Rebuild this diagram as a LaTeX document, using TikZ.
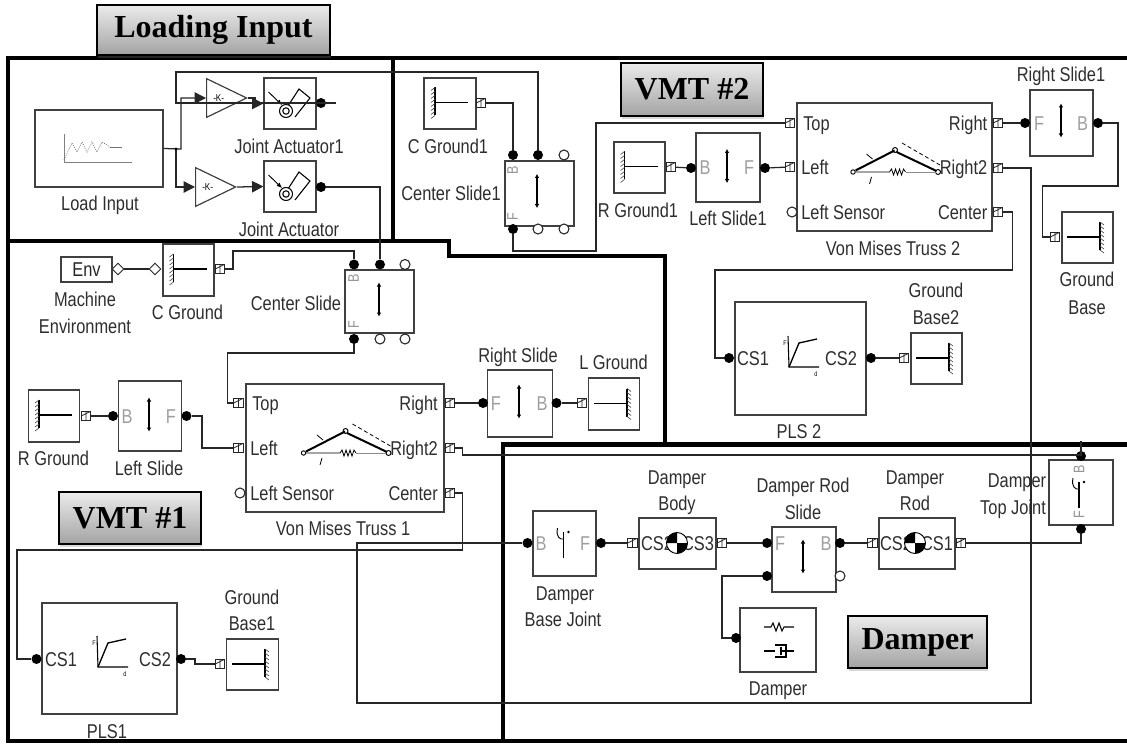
\documentclass[tikz,border=0pt]{standalone}
\usepackage{fontspec}
\setmainfont[FakeStretch=0.82]{Liberation Sans}
\newfontfamily\capfont{Liberation Serif}
\usetikzlibrary{arrows.meta,shapes.geometric,shadows}

\tikzset{
  block/.style 2 args={draw=black!75, line width=.9pt, minimum width=#1*0.75pt, minimum height=#2*0.75pt, inner sep=0pt},
  lab/.style={font=\fontsize{15}{18}\selectfont, text=black!82, text height=10.7pt, text depth=0pt, inner sep=0pt},
  glab/.style={lab, text=black!38},
  rlab/.style={font=\fontsize{11.5}{13}\selectfont, text=black!42, inner sep=0pt, rotate=90},
  dot/.style={circle, fill=black, minimum size=7.5pt, inner sep=0pt},
  hole/.style={circle, draw=black!85, fill=white, line width=.8pt, minimum size=7.5pt, inner sep=0pt},
  port/.style={draw=black!85, line width=.7pt, minimum size=7pt, inner sep=0pt, fill=white,
    path picture={\draw[line width=.6pt] (path picture bounding box.north) -- (path picture bounding box.south)
      (path picture bounding box.west) -- (path picture bounding box.north east);}},
  dia/.style={diamond, draw=black!85, fill=white, line width=.7pt, minimum size=9pt, inner sep=0pt},
  wire/.style={line width=.95pt, draw=black!85},
  arr/.style={wire, -{Triangle[length=8.5pt,width=8.5pt]}},
  frame/.style={line width=3.2pt, line join=miter},
  gain/.style={isosceles triangle, isosceles triangle stretches, draw=black!75, line width=.9pt,
    minimum width=29pt, minimum height=30pt, inner sep=0pt, anchor=lower side, font=\fontsize{7.5}{8}\selectfont},
  caption/.style 2 args={draw=black, line width=.9pt, top color=black!8, bottom color=black!36,
    minimum width=#1*0.75pt, minimum height=#2*0.75pt, inner sep=0pt,
    drop shadow={shadow xshift=1pt, shadow yshift=-2pt, opacity=.3},
    font=\capfont\bfseries\fontsize{24}{28}\selectfont},
  gnd/.pic={
    \draw[line width=.8pt] (-15,-16) -- (-15,12) (-15,-1) -- (18,-1);
    \draw[line width=.5pt, black!70] (-15,-16) -- (-19,-13) (-15,-12) -- (-19,-9) (-15,-8) -- (-19,-5) (-15,-4) -- (-19,-1)
      (-15,0) -- (-19,3) (-15,4) -- (-19,7) (-15,8) -- (-19,11) (-15,12) -- (-19,15);
  },
  slidearrow/.pic={
    \draw[line width=.8pt, {Latex[length=3pt,width=3.5pt]}-{Latex[length=3pt,width=3.5pt]}] (0,-17) -- (0,17);
  },
  fork/.pic={
    \draw[line width=.8pt] (0,-8) -- (0,18);
    \draw[line width=.7pt] (-6,-12) .. controls (-8,-3) and (-3,0) .. (0,-1);
    \fill (5,-8) circle (1.3);
  },
  actuator/.pic={
    \draw[line width=.7pt, -{Latex[length=4pt,width=3.5pt]}] (-21.5,-11.5) -- (-8,1.5);
    \draw[line width=.8pt] (-1.4,1.5) -- (9,-14.5) -- (20,-5.5) -- (5,13.5);
    \draw[line width=.8pt] (-4,7.5) circle (6.5) (-4,7.5) circle (3.2);
  },
  pls/.pic={
    \draw[line width=.8pt] (-12.5,-22.5) -- (-11.5,8.5) -- (18.5,8.5);
    \draw[line width=1pt] (-11.5,8.5) -- (-1.5,-15.5) -- (16.5,-19.5);
    \node[font=\fontsize{5}{6}\selectfont, inner sep=0pt] at (-15.5,-15.5) {F};
    \node[font=\fontsize{5}{6}\selectfont, inner sep=0pt] at (15.5,15.5) {d};
  },
  truss/.pic={
    \draw[line width=1.5pt] (-39,3.5) -- (0,-16.5) (2,-15) -- (42,4);
    \draw[line width=.7pt] (-41.5,5) circle (2.2) (0.5,-17) circle (2.5) (43.5,5) circle (2.5);
    \draw[line width=.6pt, densely dashed] (7.5,-24) -- (45.5,-2);
    \draw[line width=.6pt] (-39,5) -- (-5,5) -- (-3,2) -- (-1,8) -- (1,2) -- (3,8) -- (5,2) -- (7,8) -- (9,2) -- (11,5);
    \draw[line width=.6pt, black!45] (11,5) -- (41,5);
    \draw[line width=.6pt] (-28,-13) -- (-22,-8) (-23,10) -- (-25,17);
  },
  cgmark/.pic={
    \draw[line width=.7pt, fill=white] (0,0) circle (10.5);
    \fill (0,0) -- (10.5,0) arc (0:90:10.5) -- cycle;
    \fill (0,0) -- (-10.5,0) arc (180:270:10.5) -- cycle;
  },
}

\begin{document}
\begin{tikzpicture}[x=0.75pt, y=-0.75pt]
\useasboundingbox (0,0) rectangle (1127,745);

\draw[frame] (1127,58) -- (8,58) -- (8,741) -- (1127,741);
\draw[frame] (393,58) -- (393,241);
\draw[frame] (8,241) -- (449,241) -- (449,256) -- (665,256) -- (665,444.5);
\draw[frame] (1127,444.5) -- (503,444.5) -- (503,741);

\node[caption={233}{50}] (capload) at (213.5,30) {Loading Input};
\node[caption={142}{53}] (capvmtb) at (692,89.5) {VMT \#2};
\node[caption={142}{52}] (capvmta) at (130,518) {VMT \#1};
\node[caption={139}{52}] (capdamp) at (917.5,642) {Damper};

\node[block={128}{77}] (load) at (99,148.5) {};
\draw[black!50, line width=.7pt] (64,134) -- (64,162) -- (132,162);
\draw[black!55, line width=.6pt, densely dotted] (64,160) -- (72,143) -- (77,152) -- (82,142) -- (87,152) -- (92,142) -- (97,152) -- (102,142) -- (110,147);
\draw[black!55, line width=.6pt] (110,147) -- (122,147);
\node[lab] (loadlab) at (100,203) {Load Input};

\node[gain] (gaina) at (206,98) {-K-};
\node[gain] (gainb) at (195,187) {-K-};
\node[block={52}{51}] (jaa) at (290,103.5) {};
\node[block={52}{51}] (jab) at (290,186.5) {};
\pic at (290,103.5) {actuator};
\pic at (290,186.5) {actuator};
\node[lab] (jaalab) at (289,146) {Joint Actuator1};
\node[lab] (jablab) at (289,229) {Joint Actuator};
\node[dot] (jaao) at (321,103) {};
\node[dot] (jabo) at (321,187) {};

\node[block={52}{51}] (cgb) at (450,103.5) {};
\pic at (450,103.5) {gnd};
\node[port] (cgbp) at (481,103) {};
\node[lab] (cgblab) at (448,146) {C Ground1};

\node[block={69}{65}] (csb) at (539.5,193.5) {};
\pic at (537,191) {slidearrow};
\node[rlab] (csbB) at (512.5,170) {B};
\node[rlab] (csbF) at (512.5,217) {F};
\node[dot] (csbta) at (513,155) {};
\node[dot] (csbtb) at (538,155) {};
\node[hole] (csbtc) at (564,155) {};
\node[dot] (csbba) at (513,229) {};
\node[hole] (csbbb) at (538,229) {};
\node[hole] (csbbc) at (564,229) {};
\node[lab] (csblab) at (451,193) {Center Slide1};

\node[block={195}{128}] (vtb) at (894.5,167) {};
\pic at (894.5,167) {truss};
\node[port] (vtbt) at (790,123) {};
\node[port] (vtbl) at (790,167) {};
\node[hole] (vtbs) at (792,212) {};
\node[port] (vtbr) at (998,123) {};
\node[port] (vtbq) at (998,168) {};
\node[port] (vtbc) at (998,212) {};
\node[lab, anchor=west] (vtbtlab) at (803,123) {Top};
\node[lab, anchor=west] (vtbllab) at (801,167) {Left};
\node[lab, anchor=west] (vtbslab) at (801,212) {Left Sensor};
\node[lab, anchor=east] (vtbrlab) at (987.5,123) {Right};
\node[lab, anchor=east] (vtbqlab) at (987.5,167) {Right2};
\node[lab, anchor=east] (vtbclab) at (987.5,212) {Center};
\node[lab] (vtblab) at (893,248) {Von Mises Truss 2};

\node[block={51}{51}] (rgb) at (639.5,167.5) {};
\pic at (639.5,167.5) {gnd};
\node[port] (rgbp) at (671,167) {};
\node[lab] (rgblab) at (638,210) {R Ground1};
\node[block={64}{69}] (lsb) at (728,167.5) {};
\pic at (727,166) {slidearrow};
\node[glab] (lsbB) at (705,167) {B};
\node[glab] (lsbF) at (749,167) {F};
\node[dot] (lsbb) at (691,168) {};
\node[dot] (lsbf) at (765,168) {};
\node[lab] (lsblab) at (728,218) {Left Slide1};

\node[block={63}{66}] (rsb) at (1061.5,123) {};
\pic at (1061,120.5) {slidearrow};
\node[glab] (rsbF) at (1039,123) {F};
\node[glab] (rsbB) at (1082.5,123) {B};
\node[dot] (rsbf) at (1025,123) {};
\node[dot] (rsbb) at (1098,123) {};
\node[lab] (rsblab) at (1061,74) {Right Slide1};

\node[block={51}{51}] (gbc) at (1087.5,237.5) {};
\pic[xscale=-1] at (1085,238) {gnd};
\node[port] (gbcp) at (1055,237) {};
\node[lab] (gbclaba) at (1087,279) {Ground};
\node[lab] (gbclabb) at (1087,307) {Base};

\node[block={131}{113}] (plsb) at (800.5,358.5) {};
\pic at (800.5,358.5) {pls};
\node[lab] (plsbcsa) at (753,358) {CS1};
\node[lab] (plsbcsb) at (841,358) {CS2};
\node[dot] (plsba) at (729,358) {};
\node[dot] (plsbb) at (871,358) {};
\node[lab] (plsblab) at (799,431) {PLS 2};
\node[block={51}{51}] (gbb) at (936.5,358.5) {};
\pic[xscale=-1] at (934,359) {gnd};
\node[port] (gbbp) at (904,358) {};
\node[lab] (gbblaba) at (936,290) {Ground};
\node[lab] (gbblabb) at (936,317) {Base2};

\node[block={51}{25}, lab, text=black!85] (env) at (86.5,269.5) {Env};
\node[dia] (envp) at (118,269) {};
\node[lab] (envlaba) at (85,299) {Machine};
\node[lab] (envlabb) at (85,326) {Environment};
\node[block={51}{52}] (cga) at (188.5,270) {};
\pic at (188.5,270) {gnd};
\node[dia] (cgal) at (155,269) {};
\node[port] (cgap) at (220,269) {};
\node[lab] (cgalab) at (187.5,312) {C Ground};

\node[block={69}{63}] (csa) at (379.5,301.5) {};
\pic at (379,299.5) {slidearrow};
\node[rlab] (csaB) at (353.5,278) {B};
\node[rlab] (csaF) at (353.5,325) {F};
\node[dot] (csata) at (354,264.5) {};
\node[dot] (csatb) at (380,264.5) {};
\node[hole] (csatc) at (405,264.5) {};
\node[dot] (csaba) at (354,339) {};
\node[hole] (csabb) at (380,339) {};
\node[hole] (csabc) at (405,339) {};
\node[lab] (csalab) at (296,303) {Center Slide};

\node[block={198}{128}] (vta) at (345,448) {};
\pic at (345,448) {truss};
\node[port] (vtat) at (238.5,403) {};
\node[port] (vtal) at (238.5,448) {};
\node[hole] (vtas) at (240,493) {};
\node[port] (vtar) at (450,403) {};
\node[port] (vtaq) at (450,448) {};
\node[port] (vtac) at (450,493) {};
\node[lab, anchor=west] (vtatlab) at (252,403) {Top};
\node[lab, anchor=west] (vtallab) at (250,448) {Left};
\node[lab, anchor=west] (vtaslab) at (250,493) {Left Sensor};
\node[lab, anchor=east] (vtarlab) at (438,403) {Right};
\node[lab, anchor=east] (vtaqlab) at (438,448) {Right2};
\node[lab, anchor=east] (vtaclab) at (438,493) {Center};
\node[lab] (vtalab) at (343,528) {Von Mises Truss 1};

\node[block={51.5}{52}] (rga) at (54,416) {};
\pic at (54,416) {gnd};
\node[port] (rgap) at (86,416) {};
\node[lab] (rgalab) at (53.5,458) {R Ground};
\node[block={63.5}{70}] (lsa) at (150,416) {};
\pic at (149,414.5) {slidearrow};
\node[glab] (lsaB) at (127,416) {B};
\node[glab] (lsaF) at (171,416) {F};
\node[dot] (lsab) at (113,416) {};
\node[dot] (lsaf) at (186.5,416) {};
\node[lab] (lsalab) at (149,468) {Left Slide};

\node[block={65}{67}] (rsa) at (520,403.5) {};
\pic at (519,401.5) {slidearrow};
\node[glab] (rsaF) at (496,403) {F};
\node[glab] (rsaB) at (542,403) {B};
\node[dot] (rsaf) at (483,403) {};
\node[dot] (rsab) at (556.5,403) {};
\node[lab] (rsalab) at (518,355) {Right Slide};
\node[block={51.5}{52}] (lg) at (614,404) {};
\pic[xscale=-1] at (612,404.5) {gnd};
\node[port] (lgp) at (582,403) {};
\node[lab] (lglab) at (613.5,362) {L Ground};

\node[block={135}{111}] (plsa) at (109.5,658.5) {};
\pic at (109.5,658.5) {pls};
\node[lab] (plsacsa) at (61,659) {CS1};
\node[lab] (plsacsb) at (155,659) {CS2};
\node[dot] (plsaa) at (36.5,659) {};
\node[dot] (plsab) at (181,659) {};
\node[lab] (plsalab) at (107,731) {PLS1};
\node[block={51.5}{51}] (gba) at (252.5,664.5) {};
\pic[xscale=-1] at (250,665) {gnd};
\node[port] (gbap) at (220,664) {};
\node[lab] (gbalaba) at (252,597) {Ground};
\node[lab] (gbalabb) at (252,623) {Base1};

\node[block={63}{65}] (dbj) at (564.5,543.5) {};
\pic at (563.5,540) {fork};
\node[glab] (dbjB) at (541,543) {B};
\node[glab] (dbjF) at (585,543) {F};
\node[dot] (dbjb) at (527.5,543) {};
\node[dot] (dbjf) at (601,543) {};
\node[lab] (dbjlaba) at (565,593) {Damper};
\node[lab] (dbjlabb) at (563,619) {Base Joint};

\node[block={77}{51}] (db) at (677.5,543.5) {};
\node[lab] (dbcsa) at (657,543) {CS2};
\node[lab] (dbcsb) at (698,543) {CS3};
\pic at (677,543) {cgmark};
\node[port] (dbl) at (632.5,543) {};
\node[port] (dbr) at (722,543) {};
\node[lab] (dblaba) at (677,477) {Damper};
\node[lab] (dblabb) at (677,503) {Body};

\node[block={64}{65}] (drs) at (804,559.5) {};
\pic at (803,556.5) {slidearrow};
\node[glab] (drsF) at (780,543) {F};
\node[glab] (drsB) at (826,543) {B};
\node[dot] (drsf) at (767,543) {};
\node[dot] (drsg) at (767,576) {};
\node[dot] (drsb) at (840,543) {};
\node[hole] (drsh) at (840,576) {};
\node[lab] (drslaba) at (803,485) {Damper Rod};
\node[lab] (drslabb) at (803,512) {Slide};

\node[block={76}{51}] (dr) at (917,543.5) {};
\node[lab] (drcsa) at (896,543) {CS2};
\node[lab] (drcsb) at (937,543) {CS1};
\pic at (915,543) {cgmark};
\node[port] (drl) at (872.5,543) {};
\node[port] (drr) at (961,543) {};
\node[lab] (drlaba) at (915,477) {Damper};
\node[lab] (drlabb) at (915,503) {Rod};

\node[block={64}{65}] (dtj) at (1081,492.5) {};
\pic at (1079,490) {fork};
\node[rlab] (dtjB) at (1079,469) {B};
\node[rlab] (dtjF) at (1079,515) {F};
\node[dot] (dtjt) at (1081,456) {};
\node[dot] (dtjb) at (1081,529) {};
\node[lab] (dtjlaba) at (1017,480) {Damper};
\node[lab] (dtjlabb) at (1013,507) {Top Joint};

\node[block={76}{64}] (dmp) at (778,640) {};
\draw[line width=.8pt] (764,627) -- (771,627) -- (773,623) -- (776,631) -- (779,623) -- (782,631) -- (784,627) -- (794,627);
\draw[line width=.8pt] (764,651) -- (775,651) (775,645) -- (786,645) -- (786,657) -- (775,657) (781,651) -- (794,651) (781,647) -- (781,655);
\node[dot] (dmpd) at (736,638) {};
\node[lab] (dmplab) at (778,688) {Damper};

\coordinate (splita) at (176,149);
\coordinate (splitb) at (181,149);
\coordinate (fbend) at (336,103);
\coordinate (ftop) at (176,72);
\coordinate (wa) at (1031,703);
\coordinate (wb) at (357,543);
\coordinate (wc) at (462.5,455);
\coordinate (wd) at (1081,441);
\coordinate (we) at (462.5,550);
\coordinate (wf) at (17,550);
\coordinate (wg) at (1012.5,270);
\coordinate (wh) at (715,270);
\coordinate (wi) at (596,251);
\coordinate (wj) at (233,251);
\coordinate (wk) at (227.5,353);
\coordinate (wl) at (1118,186);
\coordinate (wm) at (1042.5,237);
\coordinate (wn) at (202,448);
\coordinate (wo) at (195,664);
\coordinate (wp) at (722,576);

\draw[arr] (load.east) -- (splitb) |- (gaina.lower side);
\draw[arr] (splita) |- (gainb.lower side);
\fill (splita) circle (1.6);
\draw[arr] (gaina.apex) -- ++(7,0) |- (jaa.west);
\draw[arr] (gainb.apex) -- (jab.west);
\draw[wire] (fbend) -- (ftop |- fbend) -- (ftop) -| (csbtb);
\draw[wire] (jabo) -| (csatb);
\draw[wire] (cgbp) -| (csbta);
\draw[wire] (csbba) |- (wi) |- (vtbt);
\draw[wire] (rgbp) -- (lsbb);
\draw[wire] (lsbf) -- (vtbl);
\draw[wire] (vtbr) -- (rsbf);
\draw[wire] (rsbb) -| (wl) -| (wm) -- (gbcp);
\draw[wire] (vtbq) -| (wa) -| (wb) -- (dbjb);
\draw[wire] (vtbc) -| (wg) -- (wh) |- (plsba);
\draw[wire] (plsbb) -- (gbbp);
\draw[wire] (envp) -- (cgal);
\draw[wire] (cgap) -| (wj) -| (csata);
\draw[wire] (csaba) |- (wk) |- (vtat);
\draw[wire] (rgap) -- (lsab);
\draw[wire] (lsaf) -| (wn) -- (vtal);
\draw[wire] (vtar) -- (rsaf);
\draw[wire] (rsab) -- (lgp);
\draw[wire] (vtaq) -| (wc) -| (wd);
\draw[wire] (vtac) -| (we) -- (wf) |- (plsaa);
\draw[wire] (plsab) -| (wo) -- (gbap);
\draw[wire] (dbjf) -- (dbl);
\draw[wire] (dbr) -- (drsf);
\draw[wire] (drsb) -- (drl);
\draw[wire] (drr) -| (dtjb);
\draw[wire] (dmpd) -| (wp) -- (drsg);

\end{tikzpicture}
\end{document}
